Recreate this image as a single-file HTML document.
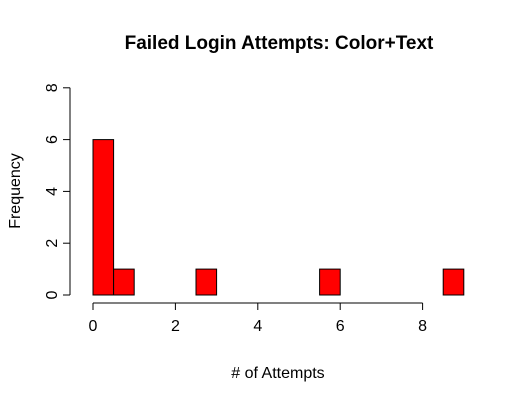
<!DOCTYPE html>
<html><head><meta charset="utf-8"><style>
body{margin:0;background:#fff}
svg text{font-family:"Liberation Sans",Arial,sans-serif;fill:#000}
</style></head><body>
<svg width="519" height="402" viewBox="0 0 519 402" xmlns="http://www.w3.org/2000/svg">
<rect width="519" height="402" fill="#fff"/>
<text x="279" y="49" font-size="19" font-weight="bold" text-anchor="middle">Failed Login Attempts: Color+Text</text>
<text x="278" y="378" font-size="16" text-anchor="middle"># of Attempts</text>
<text transform="translate(20,191) rotate(-90)" font-size="16" text-anchor="middle">Frequency</text>
<g id="bars"></g>
<g id="xaxis"></g>
<g id="yaxis"></g>
</svg>
<script>
const binStarts=[0,0.5,2.5,5.5,8.5];
const counts=[6,1,1,1,1];
const binWidth=0.5;
const xTicks=[0,2,4,6,8];
const yTicks=[0,2,4,6,8];
const NS="http://www.w3.org/2000/svg";
function sx(v){return 93+v*41.2;}
function sy(v){return 295-v*25.9;}
function mk(t,a,p){const e=document.createElementNS(NS,t);for(const k in a)e.setAttribute(k,a[k]);p.appendChild(e);return e;}
const bars=document.getElementById('bars');
binStarts.forEach((b,i)=>{
 const r=mk('rect',{x:sx(b),y:sy(counts[i]),width:sx(b+binWidth)-sx(b),height:sy(0)-sy(counts[i]),fill:'#ff0000',stroke:'#000','stroke-width':1},bars);
 
 
});
const xa=document.getElementById('xaxis');
mk('line',{x1:sx(xTicks[0]),x2:sx(xTicks[xTicks.length-1]),y1:303,y2:303,stroke:'#000'},xa);
xTicks.forEach(t=>{
 mk('line',{x1:sx(t),x2:sx(t),y1:303,y2:310,stroke:'#000'},xa);
 const tx=mk('text',{x:sx(t),y:331,'font-size':16,'text-anchor':'middle'},xa);tx.textContent=t;
 
 
});
const ya=document.getElementById('yaxis');
mk('line',{x1:70,x2:70,y1:sy(yTicks[0]),y2:sy(yTicks[yTicks.length-1]),stroke:'#000'},ya);
yTicks.forEach(t=>{
 mk('line',{x1:63,x2:70,y1:sy(t),y2:sy(t),stroke:'#000'},ya);
 const tx=mk('text',{transform:`translate(57,${sy(t)}) rotate(-90)`,'font-size':16,'text-anchor':'middle'},ya);tx.textContent=t;
 
 
});
</script>
</body></html>
